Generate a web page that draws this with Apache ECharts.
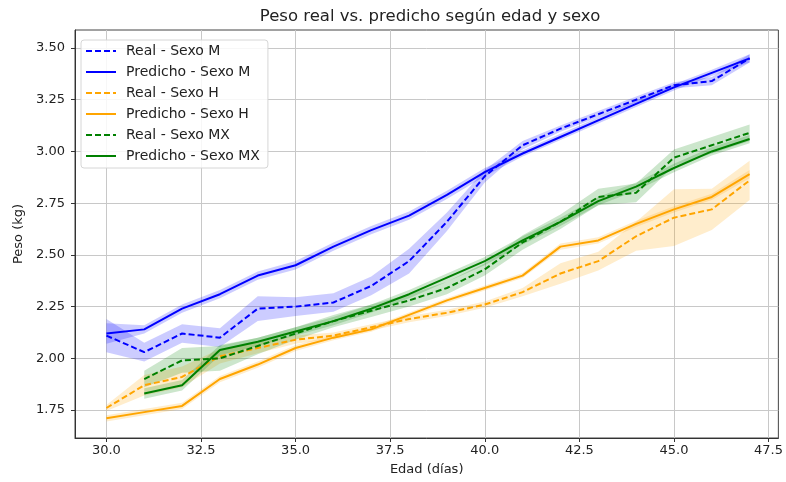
<!DOCTYPE html>
<html>
<head>
<meta charset="utf-8">
<script src="https://cdn.jsdelivr.net/npm/echarts@6/dist/echarts.min.js"></script>
<style>
  html, body { margin: 0; padding: 0; background: #fff; }
  #chart { width: 786px; height: 482px; }
</style>
</head>
<body>
<div id="chart"></div>
<script>
// Age in days
const ages   = [30, 31, 32, 33, 34, 35, 36, 37, 38, 39, 40, 41, 42, 43, 44, 45, 46, 47];
const agesMX = [31, 32, 33, 34, 35, 36, 37, 38, 39, 40, 41, 42, 43, 44, 45, 46, 47];

// Mean weight (kg): observed vs. model prediction, per sex group
const realM  = [2.11, 2.03, 2.12, 2.10, 2.24, 2.25, 2.27, 2.35, 2.47, 2.66, 2.88, 3.03, 3.11, 3.18, 3.25, 3.32, 3.34, 3.45];
const predM  = [2.12, 2.14, 2.24, 2.31, 2.40, 2.45, 2.54, 2.62, 2.69, 2.79, 2.90, 2.99, 3.07, 3.15, 3.23, 3.31, 3.38, 3.45];
const realH  = [1.76, 1.87, 1.91, 2.01, 2.05, 2.09, 2.11, 2.15, 2.19, 2.22, 2.26, 2.32, 2.41, 2.47, 2.59, 2.68, 2.72, 2.86];
const predH  = [1.71, 1.74, 1.77, 1.90, 1.97, 2.05, 2.10, 2.14, 2.21, 2.28, 2.34, 2.40, 2.54, 2.57, 2.65, 2.72, 2.78, 2.89];
const realMX = [1.90, 1.99, 2.00, 2.06, 2.12, 2.18, 2.23, 2.28, 2.34, 2.43, 2.56, 2.66, 2.78, 2.80, 2.97, 3.03, 3.09];
const predMX = [1.83, 1.87, 2.04, 2.08, 2.13, 2.18, 2.24, 2.31, 2.39, 2.47, 2.57, 2.66, 2.76, 2.83, 2.92, 3.00, 3.06];

// Confidence-interval half widths (kg)
const ciRealM  = [0.08, 0.045, 0.045, 0.045, 0.06, 0.045, 0.045, 0.045, 0.06, 0.045, 0.03, 0.02, 0.015, 0.015, 0.015, 0.015, 0.02, 0.02];
const ciPredM  = [0.05, 0.02, 0.02, 0.02, 0.02, 0.02, 0.02, 0.02, 0.02, 0.02, 0.02, 0.015, 0.015, 0.015, 0.015, 0.015, 0.015, 0.02];
const ciRealH  = [0.015, 0.05, 0.05, 0.035, 0.025, 0.02, 0.015, 0.015, 0.015, 0.015, 0.015, 0.02, 0.05, 0.045, 0.07, 0.137, 0.10, 0.095];
const ciPredH  = [0.015, 0.015, 0.015, 0.015, 0.015, 0.015, 0.012, 0.012, 0.012, 0.012, 0.012, 0.012, 0.015, 0.015, 0.015, 0.015, 0.015, 0.02];
const ciRealMX = [0.04, 0.06, 0.06, 0.04, 0.03, 0.03, 0.03, 0.03, 0.03, 0.03, 0.035, 0.035, 0.04, 0.045, 0.04, 0.04, 0.04];
const ciPredMX = [0.025, 0.025, 0.025, 0.02, 0.02, 0.02, 0.02, 0.02, 0.02, 0.02, 0.02, 0.02, 0.02, 0.02, 0.02, 0.02, 0.02];

// Axis tick values
const xTicks = [30.0, 32.5, 35.0, 37.5, 40.0, 42.5, 45.0, 47.5];
const yTicks = [1.75, 2.00, 2.25, 2.50, 2.75, 3.00, 3.25, 3.50];

const BLUE = '#0000ff', ORANGE = '#ffa500', GREEN = '#008000';
const FONT = 'DejaVu Sans';

function pairs(xs, ys) { return xs.map((x, i) => [x, ys[i]]); }

// Shaded interval drawn as one polygon (upper edge forward, lower edge back)
function band(xs, ys, ci, fill) {
  const rows = xs.map((x, i) => [x, ys[i] - ci[i], ys[i] + ci[i]]);
  return {
    type: 'custom', silent: true, z: 1,
    data: rows,
    encode: { x: 0, y: [1, 2] },
    renderItem: (params, api) => {
      if (params.dataIndex !== 0) return null;
      const upper = rows.map(r => api.coord([r[0], r[2]]));
      const lower = rows.map(r => api.coord([r[0], r[1]])).reverse();
      return { type: 'polygon', shape: { points: upper.concat(lower) }, style: { fill } };
    }
  };
}

function line(name, xs, ys, color, dashed) {
  return { type: 'line', name, data: pairs(xs, ys), symbol: 'none', z: 3,
    itemStyle: { color },
    lineStyle: { color, width: 2, type: dashed ? [6, 3] : 'solid' } };
}

const series = [
  band(ages, realM, ciRealM, 'rgba(0,0,255,0.2)'),
  band(ages, predM, ciPredM, 'rgba(0,0,255,0.2)'),
  band(ages, realH, ciRealH, 'rgba(255,165,0,0.2)'),
  band(ages, predH, ciPredH, 'rgba(255,165,0,0.2)'),
  band(agesMX, realMX, ciRealMX, 'rgba(0,128,0,0.2)'),
  band(agesMX, predMX, ciPredMX, 'rgba(0,128,0,0.2)'),
  line('Real - Sexo M', ages, realM, BLUE, true),
  line('Predicho - Sexo M', ages, predM, BLUE, false),
  line('Real - Sexo H', ages, realH, ORANGE, true),
  line('Predicho - Sexo H', ages, predH, ORANGE, false),
  line('Real - Sexo MX', agesMX, realMX, GREEN, true),
  line('Predicho - Sexo MX', agesMX, predMX, GREEN, false)
];

const chart = echarts.init(document.getElementById('chart'), null, { renderer: 'canvas' });
chart.setOption({
  animation: false,
  backgroundColor: '#fff',
  graphic: [{
    type: 'text', x: 430, y: 17, silent: true,
    style: {
      text: 'Peso real vs. predicho según edad y sexo',
      align: 'center', verticalAlign: 'middle',
      font: '16.5px "DejaVu Sans"', fill: '#222'
    }
  }],
  grid: { left: 75, right: 3, top: 30, bottom: 44, show: true, borderColor: '#444', borderWidth: 1, containLabel: false },
  legend: {
    data: ['Real - Sexo M', 'Predicho - Sexo M', 'Real - Sexo H', 'Predicho - Sexo H', 'Real - Sexo MX', 'Predicho - Sexo MX'],
    orient: 'vertical', left: 81, top: 40,
    itemWidth: 30, itemHeight: 14, itemGap: 7,
    padding: [4, 8, 5, 4],
    itemStyle: { opacity: 0 },
    backgroundColor: 'rgba(255,255,255,0.85)', borderColor: '#d6d6d6', borderWidth: 1, borderRadius: 3,
    textStyle: { fontFamily: FONT, fontSize: 14, color: '#222', padding: [0, 0, 0, 5] },
    selectedMode: false
  },
  xAxis: {
    type: 'value', min: 29.17, max: 47.76,
    name: 'Edad (días)', nameLocation: 'middle', nameGap: 25,
    nameTextStyle: { fontFamily: FONT, fontSize: 13, color: '#222' },
    axisLine: { show: true, onZero: false, lineStyle: { color: '#333', width: 1 } },
    axisTick: { show: true, length: 4, inside: false, customValues: xTicks, lineStyle: { color: '#333' } },
    axisLabel: { customValues: xTicks, margin: 6, fontFamily: FONT, fontSize: 13, color: '#222',
      formatter: v => v.toFixed(1) },
    splitLine: { show: true, lineStyle: { color: '#c8c8c8', width: 1 } }
  },
  yAxis: {
    type: 'value', min: 1.615, max: 3.587,
    name: 'Peso (kg)', nameLocation: 'middle', nameGap: 50,
    nameTextStyle: { fontFamily: FONT, fontSize: 13, color: '#222' },
    axisLine: { show: true, onZero: false, lineStyle: { color: '#333', width: 1 } },
    axisTick: { show: true, length: 4, inside: false, customValues: yTicks, lineStyle: { color: '#333' } },
    axisLabel: { customValues: yTicks, margin: 10, fontFamily: FONT, fontSize: 13, color: '#222',
      formatter: v => v.toFixed(2) },
    splitLine: { show: true, lineStyle: { color: '#c8c8c8', width: 1 } }
  },
  series
});
</script>
</body>
</html>
